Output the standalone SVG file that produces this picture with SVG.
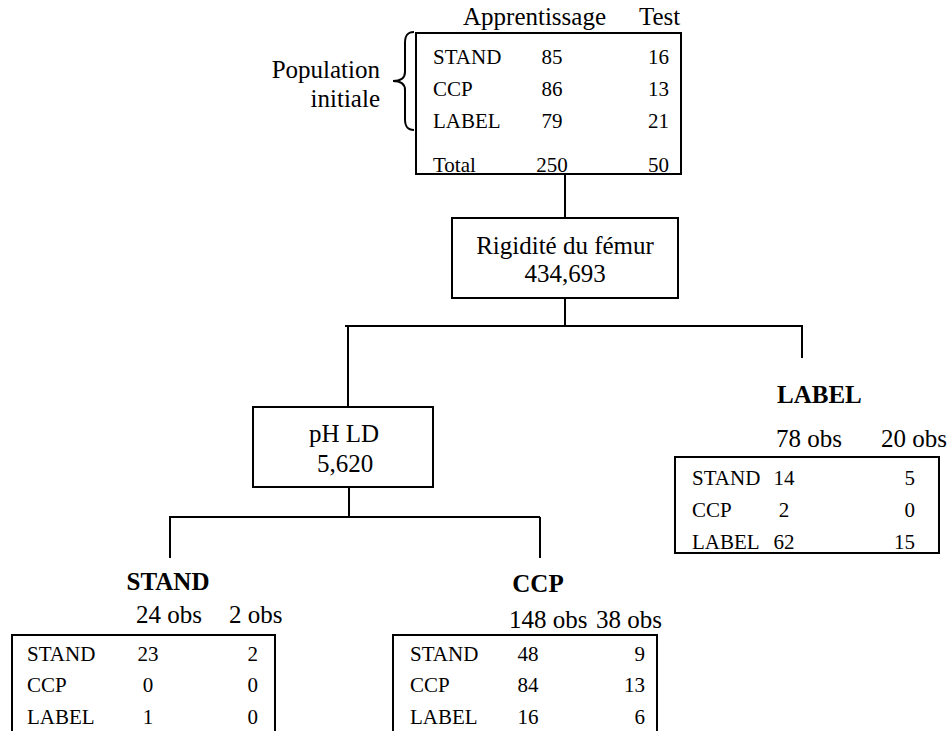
<svg xmlns="http://www.w3.org/2000/svg" width="951" height="731" viewBox="0 0 951 731" font-family="'Liberation Serif', 'Times New Roman', serif">
<style>
text{font-family:'Liberation Serif','Times New Roman',serif;fill:#000}
.h{font-size:25px}
.r{font-size:21px}
.b{font-size:25px;font-weight:bold}
.m{text-anchor:middle}
.e{text-anchor:end}
.box{fill:#fff;stroke:#000;stroke-width:2}
.ln{fill:none;stroke:#000;stroke-width:2}
</style>
<rect width="951" height="731" fill="#fff"/>
<g id="connectors">
<path class="ln" d="M565,174V218"/>
<path class="ln" d="M565,298V326M345,326H803M348,326V407M802,326V358"/>
<path class="ln" d="M349,487V517M169,517H540M170,517V558M540,517V558"/>
</g>
<g id="population">
<text class="h e" x="380" y="78">Population</text>
<text class="h e" x="380" y="107">initiale</text>
<path class="ln" d="M414,32C407,32 405,36 405,43L405,72C405,78 401,81 393,81C401,81 405,84 405,90L405,119C405,126 407,130 414,130" stroke-width="1.5"/>
</g>
<g id="root-table">
<text class="h" x="463" y="25">Apprentissage</text>
<text class="h" x="639" y="25">Test</text>
<rect class="box" x="416" y="33" width="265" height="141"/>
<text class="r" x="433" y="64">STAND</text><text class="r m" x="552" y="64">85</text><text class="r e" x="669" y="64">16</text>
<text class="r" x="433" y="96">CCP</text><text class="r m" x="552" y="96">86</text><text class="r e" x="669" y="96">13</text>
<text class="r" x="433" y="128">LABEL</text><text class="r m" x="552" y="128">79</text><text class="r e" x="669" y="128">21</text>
<text class="r" x="433" y="172">Total</text><text class="r m" x="552" y="172">250</text><text class="r e" x="669" y="172">50</text>
</g>
<g id="node-rigidite">
<rect class="box" x="452" y="218" width="226" height="80"/>
<text class="h m" x="565" y="254">Rigidité du fémur</text>
<text class="h m" x="565" y="282">434,693</text>
</g>
<g id="node-ph">
<rect class="box" x="253" y="407" width="180" height="80"/>
<text class="h m" x="344" y="442">pH LD</text>
<text class="h m" x="345" y="472">5,620</text>
</g>
<g id="leaf-label">
<text class="b" x="777" y="403">LABEL</text>
<text class="h" x="776" y="447">78 obs</text>
<text class="h" x="881" y="447">20 obs</text>
<rect class="box" x="675" y="457" width="264" height="96"/>
<text class="r" x="692" y="485">STAND</text><text class="r m" x="784" y="485">14</text><text class="r e" x="915" y="485">5</text>
<text class="r" x="692" y="517">CCP</text><text class="r m" x="784" y="517">2</text><text class="r e" x="915" y="517">0</text>
<text class="r" x="692" y="549">LABEL</text><text class="r m" x="784" y="549">62</text><text class="r e" x="915" y="549">15</text>
</g>
<g id="leaf-stand">
<text class="b m" x="168" y="590">STAND</text>
<text class="h" x="136" y="623">24 obs</text>
<text class="h" x="229" y="623">2 obs</text>
<path class="ln" d="M12,732V635H275V732"/>
<text class="r" x="27" y="661">STAND</text><text class="r m" x="148" y="661">23</text><text class="r e" x="258" y="661">2</text>
<text class="r" x="27" y="692">CCP</text><text class="r m" x="148" y="692">0</text><text class="r e" x="258" y="692">0</text>
<text class="r" x="27" y="724">LABEL</text><text class="r m" x="148" y="724">1</text><text class="r e" x="258" y="724">0</text>
</g>
<g id="leaf-ccp">
<text class="b m" x="538" y="592">CCP</text>
<text class="h" x="509" y="628">148 obs</text>
<text class="h" x="596" y="628">38 obs</text>
<path class="ln" d="M393,732V635H657V732"/>
<text class="r" x="410" y="661">STAND</text><text class="r m" x="528" y="661">48</text><text class="r e" x="645" y="661">9</text>
<text class="r" x="410" y="692">CCP</text><text class="r m" x="528" y="692">84</text><text class="r e" x="645" y="692">13</text>
<text class="r" x="410" y="724">LABEL</text><text class="r m" x="528" y="724">16</text><text class="r e" x="645" y="724">6</text>
</g>
</svg>
